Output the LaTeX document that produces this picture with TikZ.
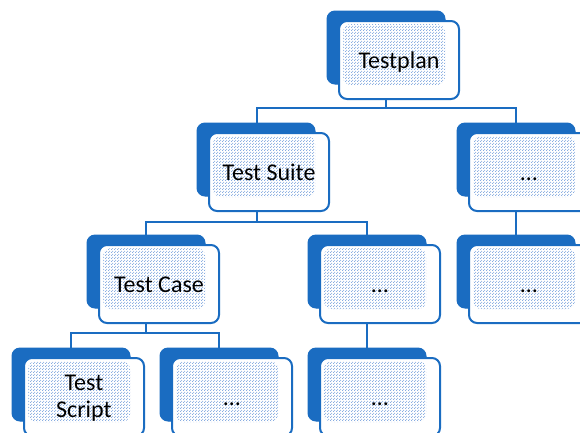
\documentclass[tikz,border=0pt]{standalone}
\usepackage{fontspec}
\setmainfont{Carlito}
\usetikzlibrary{patterns}
\definecolor{mainblue}{RGB}{26,108,193}
\definecolor{dotc}{RGB}{125,165,222}
\pgfdeclarepatternformonly{boxdots}{\pgfqpoint{0pt}{0pt}}{\pgfqpoint{3pt}{3pt}}{\pgfqpoint{3pt}{3pt}}{%
  \pgfpathcircle{\pgfqpoint{0.75pt}{0.75pt}}{0.7pt}%
  \pgfpathcircle{\pgfqpoint{2.25pt}{2.25pt}}{0.7pt}%
  \pgfusepath{fill}}
\tikzset{
  backbox/.style={draw=mainblue, fill=mainblue, rounded corners=8pt, minimum width=118pt, minimum height=73pt, inner sep=0pt, line width=1pt},
  frontbox/.style={draw=mainblue, fill=white, rounded corners=8pt, minimum width=120pt, minimum height=78pt, inner sep=0pt, line width=2pt,
    path picture={\fill[pattern=boxdots, pattern color=dotc]
      ([xshift=4pt,yshift=-3pt]path picture bounding box.north west) rectangle
      ([xshift=-14pt,yshift=14pt]path picture bounding box.south east);}},
  lbl/.style={font=\fontsize{24}{27}\selectfont, inner sep=0pt, text=black},
  conn/.style={draw=mainblue, line width=2pt}
}
\newcommand\tbox[4]{%
  \node[backbox] (#1b) at (#2+59, #3+36.5) {};
  \node[frontbox] (#1) at (#2+72, #3+49) {};
  \node[lbl, anchor=base] (#1t) at ([yshift=-8pt]#1.center) {#4};
}
\begin{document}
\begin{tikzpicture}[x=1pt, y=-1pt]
\useasboundingbox (0,0) rectangle (580,432);
% connectors (behind boxes)
\coordinate (tpbus) at (386,108);
\coordinate (tsbus) at (257,222);
\coordinate (tcbus) at (146,333);
\draw[conn] (386,99) -- (tpbus) -- (257,108) -- (257,123);
\draw[conn] (tpbus) -- (516,108) -- (516,123);
\draw[conn] (257,211) -- (tsbus) -- (146,222) -- (146,235);
\draw[conn] (tsbus) -- (367,222) -- (367,235);
\draw[conn] (516,211) -- (516,235);
\draw[conn] (146,323) -- (tcbus) -- (71,333) -- (71,348);
\draw[conn] (tcbus) -- (219,333) -- (219,348);
\draw[conn] (367,323) -- (367,348);
% boxes
\tbox{tp}{327}{11}{Testplan}
\tbox{ts}{197}{123}{Test Suite}
\tbox{rb}{457}{123}{…}
\tbox{tc}{87}{235}{Test Case}
\tbox{mc}{308}{235}{…}
\tbox{rc}{457}{235}{…}
\node[backbox] (scb) at (12+59, 348+36.5) {};
\node[frontbox] (sc) at (12+72, 348+49) {};
\node[lbl, align=center] (sct) at ([yshift=-1pt]sc.center) {Test\\Script};
\tbox{ld}{160}{348}{…}
\tbox{md}{308}{348}{…}
\end{tikzpicture}
\end{document}
